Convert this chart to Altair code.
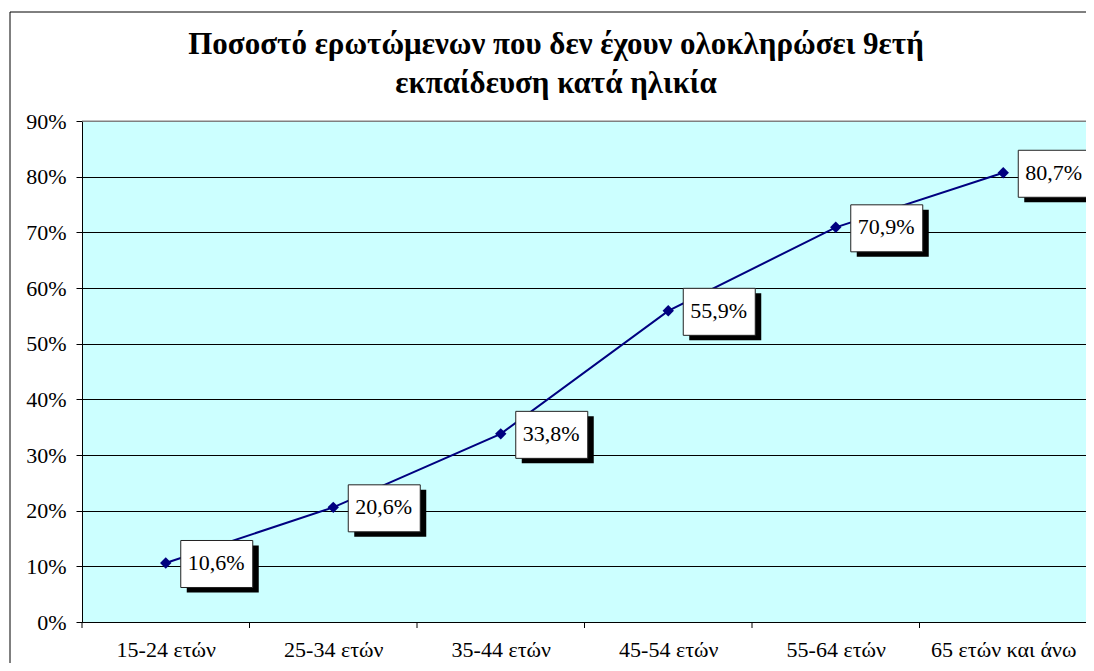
import altair as alt
import pandas as pd

categories = ["15-24 ετών", "25-34 ετών", "35-44 ετών", "45-54 ετών", "55-64 ετών", "65 ετών και άνω"]
values = [0.106, 0.206, 0.338, 0.559, 0.709, 0.807]
y_ticks = [0.0, 0.1, 0.2, 0.3, 0.4, 0.5, 0.6, 0.7, 0.8, 0.9]
title_lines = ["Ποσοστό ερωτώμενων που δεν έχουν ολοκληρώσει 9ετή", "εκπαίδευση κατά ηλικία"]

idx = [i + 0.5 for i in range(len(categories))]
labels = [f"{v * 100:.1f}".replace(".", ",") + "%" for v in values]
df = pd.DataFrame({"idx": idx, "val": values, "label": labels, "cat": categories})
bounds = pd.DataFrame({"b": list(range(len(categories)))})
one = pd.DataFrame({"k": [0]})

FONT = "Liberation Serif"
W, H = 1004, 501
CAT_W = 167.5
xs = alt.Scale(domain=[0, W / CAT_W], nice=False, zero=False)
ys = alt.Scale(domain=[0, 0.9], nice=False, zero=True)

label_expr = "[" + ",".join(f"'{c}'" for c in categories) + "][floor(datum.value)]"

x_axis = alt.Axis(values=idx, labelExpr=label_expr, ticks=False, grid=False, title=None,
                  labelPadding=17, labelFontSize=22, labelFont=FONT, labelColor="black",
                  domainColor="black", domainWidth=1, labelOverlap=False, labelFlush=False)
y_axis = alt.Axis(values=y_ticks, format=".0%", title=None, grid=True,
                  gridColor={"condition": {"test": "datum.value >= 0.89", "value": "#808080"}, "value": "black"},
                  gridWidth=1, tickColor="black", tickSize=6, labelPadding=10,
                  labelFontSize=22, labelFont=FONT, labelColor="black",
                  domainColor="black", domainWidth=1)

base = alt.Chart(df)

line = base.mark_line(color="#000080", strokeWidth=2).encode(
    x=alt.X("idx:Q", scale=xs, axis=x_axis),
    y=alt.Y("val:Q", scale=ys, axis=y_axis),
)
pts = base.mark_point(shape="diamond", filled=True, color="#000080", size=130, opacity=1).encode(
    x=alt.X("idx:Q", scale=xs), y=alt.Y("val:Q", scale=ys)
)
ticks = alt.Chart(bounds).mark_rule(color="black", strokeWidth=1).encode(
    x=alt.X("b:Q", scale=xs), y=alt.value(H), y2=alt.value(H + 6)
)
shadow = base.mark_rect(color="black", xOffset=21, x2Offset=93, yOffset=-17.5, y2Offset=29.5).encode(
    x=alt.X("idx:Q", scale=xs), x2="idx", y=alt.Y("val:Q", scale=ys), y2="val"
)
box = base.mark_rect(fill="white", stroke="#222222", strokeWidth=1, xOffset=15, x2Offset=87,
                     yOffset=-22.5, y2Offset=24.5).encode(
    x=alt.X("idx:Q", scale=xs), x2="idx", y=alt.Y("val:Q", scale=ys), y2="val"
)
txt = base.mark_text(align="left", baseline="middle", dx=22, font=FONT, fontSize=22, color="black").encode(
    x=alt.X("idx:Q", scale=xs), y=alt.Y("val:Q", scale=ys), text="label:N"
)
title = alt.Chart(one).mark_text(text=title_lines, lineHeight=39, font=FONT, fontSize=31, fontWeight="bold",
                                 align="center", baseline="alphabetic", color="black").encode(
    x=alt.value(474), y=alt.value(-67)
)
border_left = alt.Chart(one).mark_rule(color="black", strokeWidth=1).encode(
    x=alt.value(-72), y=alt.value(-109), y2=alt.value(H + 60)
)
border_top = alt.Chart(one).mark_rule(color="black", strokeWidth=1).encode(
    x=alt.value(-72), x2=alt.value(W + 20), y=alt.value(-109)
)
plot_top = alt.Chart(one).mark_rule(color="#808080", strokeWidth=1).encode(
    x=alt.value(0), x2=alt.value(W), y=alt.value(0)
)

chart = alt.layer(line, pts, ticks, shadow, box, txt, title, border_left, border_top, plot_top).properties(
    width=W, height=H,
    autosize=alt.AutoSizeParams(type="none"),
    padding={"left": 74, "top": 113, "right": 0, "bottom": 41},
    background="white",
).configure_view(fill="#CCFFFF", strokeWidth=0)

chart.save("out.html", embed_options={"renderer": "svg", "actions": False})
